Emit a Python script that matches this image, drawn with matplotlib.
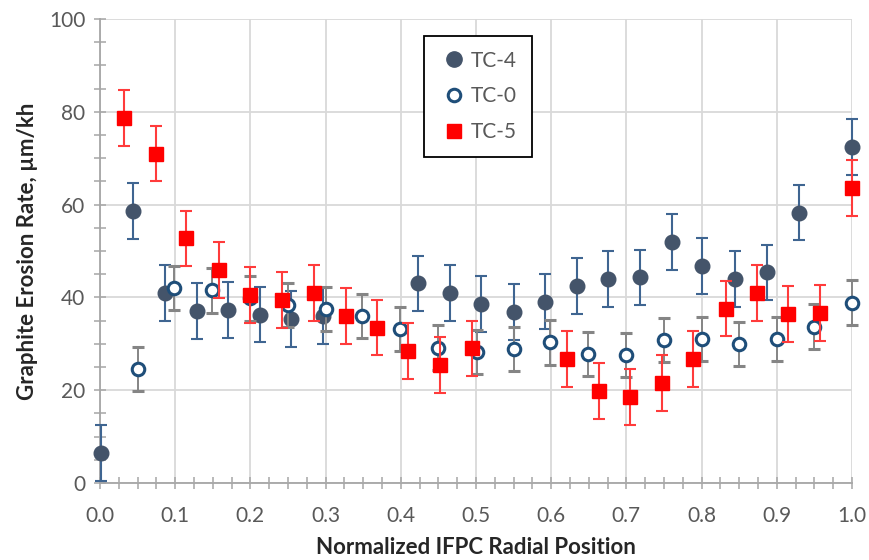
import matplotlib
matplotlib.use("Agg")
import matplotlib.pyplot as plt
from matplotlib.lines import Line2D
from matplotlib.ticker import MultipleLocator, FormatStrFormatter

# TC-4 (filled circles)
tc4_x = [0.001, 0.044, 0.086, 0.129, 0.170, 0.213, 0.254, 0.296, 0.423, 0.465, 0.507,
         0.550, 0.592, 0.634, 0.675, 0.718, 0.760, 0.801, 0.844, 0.887, 0.929, 1.0]
tc4_y = [6.4, 58.6, 40.9, 37.1, 37.3, 36.3, 35.3, 36.0, 43.0, 40.9, 38.6,
         36.8, 39.1, 42.5, 44.0, 44.3, 51.9, 46.7, 44.0, 45.4, 58.3, 72.4]
tc4_err = 6.0

# TC-0 (open circles)
tc0_x = [0.050, 0.099, 0.149, 0.200, 0.250, 0.300, 0.349, 0.399, 0.450, 0.501,
         0.550, 0.599, 0.649, 0.700, 0.750, 0.800, 0.850, 0.900, 0.950, 1.0]
tc0_y = [24.6, 42.0, 41.5, 39.8, 38.4, 37.5, 36.0, 33.2, 29.2, 28.2,
         28.9, 30.3, 27.8, 27.6, 30.8, 31.0, 30.0, 31.0, 33.7, 38.9]
tc0_err = 4.8

# TC-5 (red squares)
tc5_x = [0.032, 0.074, 0.115, 0.158, 0.200, 0.242, 0.284, 0.327, 0.369, 0.410, 0.452,
         0.495, 0.621, 0.664, 0.705, 0.747, 0.789, 0.832, 0.874, 0.915, 0.957, 1.0]
tc5_y = [78.7, 71.0, 52.7, 45.9, 40.5, 39.4, 41.0, 36.0, 33.5, 28.4, 25.4,
         29.0, 26.7, 19.9, 18.6, 21.5, 26.7, 37.6, 41.0, 36.4, 36.6, 63.6]
tc5_err = 6.0

plt.rcParams["font.family"] = ["Lato", "DejaVu Sans"]

fig = plt.figure(figsize=(8.69, 5.60), dpi=100)
ax = fig.add_axes([0.115, 0.1375, 0.8655, 0.8285])

grid_c = "#D9D9D9"
axis_c = "#A6A6A6"
text_c = "#595959"

# series
ax.errorbar(tc4_x, tc4_y, yerr=tc4_err, fmt="o", ms=10.5, color="#44546A",
            mec="#44546A", ecolor="#3F6591", elinewidth=1.5, capsize=4,
            capthick=1.5, clip_on=False, zorder=3)
ax.errorbar(tc0_x, tc0_y, yerr=tc0_err, fmt="o", ms=9, mfc="white",
            mec="#1F4E79", mew=2.2, ecolor="#858585", elinewidth=1.4,
            capsize=4, capthick=1.4, clip_on=False, zorder=4)
ax.errorbar(tc5_x, tc5_y, yerr=tc5_err, fmt="s", ms=10, color="#FF0000",
            mec="#FF0000", ecolor="#FF3B3B", elinewidth=1.5, capsize=4,
            capthick=1.5, clip_on=False, zorder=5)

ax.set_xlim(0, 1.0)
ax.set_ylim(0, 100)
ax.xaxis.set_major_locator(MultipleLocator(0.1))
ax.xaxis.set_minor_locator(MultipleLocator(0.025))
ax.yaxis.set_major_locator(MultipleLocator(20))
ax.yaxis.set_minor_locator(MultipleLocator(5))
ax.xaxis.set_major_formatter(FormatStrFormatter("%.1f"))

ax.grid(True, which="major", color=grid_c, linewidth=1.3, zorder=0)
ax.set_axisbelow(True)
for s in ["top", "right"]:
    ax.spines[s].set_visible(False)
for s in ["left", "bottom"]:
    ax.spines[s].set_color(axis_c)
    ax.spines[s].set_linewidth(1.3)

ax.tick_params(which="both", direction="inout", color=axis_c, width=1.1,
               labelcolor=text_c, labelsize=15)
ax.tick_params(which="major", length=9)
ax.tick_params(which="minor", length=9)
ax.tick_params(axis="x", which="major", pad=12)
ax.tick_params(axis="y", which="major", pad=6)

ax.set_xlabel("Normalized IFPC Radial Position", fontsize=16, fontweight="bold",
              color="#262626", labelpad=8)
ax.set_ylabel("Graphite Erosion Rate, µm/kh", fontsize=16, fontweight="bold",
              color="#262626", labelpad=8)

handles = [
    Line2D([], [], ls="none", marker="o", ms=11, color="#44546A"),
    Line2D([], [], ls="none", marker="o", ms=9, mfc="white", mec="#1F4E79", mew=2.2),
    Line2D([], [], ls="none", marker="s", ms=10, color="#FF0000"),
]
leg = ax.legend(handles, ["TC-4", "TC-0", "TC-5"], loc="upper left",
                bbox_to_anchor=(0.431, 0.963), fontsize=15, labelcolor=text_c,
                frameon=True, fancybox=False, handletextpad=0.05,
                handlelength=1.5, labelspacing=0.75, borderpad=0.7,
                borderaxespad=0)
leg.get_frame().set_edgecolor("black")
leg.get_frame().set_linewidth(1.3)
leg.get_frame().set_alpha(1)
leg.set_zorder(10)

fig.savefig("out.png", dpi=100)
